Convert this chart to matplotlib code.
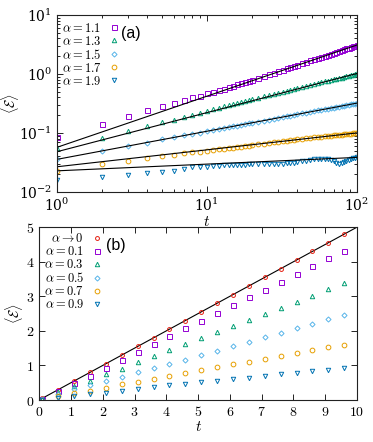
import matplotlib
matplotlib.use('Agg')
import matplotlib.pyplot as plt
from matplotlib.ticker import FixedLocator, FuncFormatter, LogLocator, NullFormatter

plt.rcParams['mathtext.fontset'] = 'cm'
plt.rcParams['font.family'] = ['DejaVu Serif']

# --- painel (a): <E>(t) em escala log-log ---
t_a = list(range(1, 21)) + list(range(22, 41, 2)) + list(range(43, 101, 3))

e_11 = [0.086, 0.14, 0.19, 0.245, 0.285, 0.32, 0.36, 0.40, 0.43, 0.47,
        0.50, 0.53, 0.56, 0.59, 0.63, 0.67, 0.70, 0.73, 0.77, 0.80,
        0.86, 0.93, 0.99, 1.05, 1.12, 1.18, 1.24, 1.30, 1.36, 1.42,
        1.52, 1.61, 1.70, 1.79, 1.88, 1.96, 2.05, 2.13, 2.22, 2.30,
        2.38, 2.47, 2.55, 2.63, 2.71, 2.79, 2.87, 2.95, 3.03, 3.10]
e_13 = [0.055, 0.082, 0.109, 0.130, 0.151, 0.168, 0.184, 0.200, 0.218, 0.236,
        0.252, 0.268, 0.283, 0.297, 0.310, 0.323, 0.336, 0.348, 0.360, 0.372,
        0.395, 0.418, 0.440, 0.460, 0.480, 0.500, 0.520, 0.540, 0.558, 0.576,
        0.602, 0.628, 0.652, 0.676, 0.700, 0.722, 0.745, 0.766, 0.788, 0.808,
        0.828, 0.848, 0.868, 0.888, 0.906, 0.925, 0.950, 0.970, 0.995, 1.02]
e_15 = [0.0355, 0.050, 0.059, 0.068, 0.0776, 0.0838, 0.0906, 0.095, 0.100, 0.107,
        0.111, 0.116, 0.121, 0.124, 0.129, 0.133, 0.137, 0.141, 0.145, 0.148,
        0.155, 0.162, 0.168, 0.174, 0.180, 0.186, 0.191, 0.196, 0.201, 0.206,
        0.214, 0.220, 0.227, 0.234, 0.240, 0.246, 0.252, 0.258, 0.264, 0.269,
        0.275, 0.280, 0.285, 0.290, 0.295, 0.300, 0.305, 0.310, 0.315, 0.320]
e_17 = [0.0227, 0.0295, 0.0336, 0.0369, 0.0404, 0.0425, 0.0449, 0.0467, 0.0482, 0.0498,
        0.0512, 0.0524, 0.0536, 0.0548, 0.0558, 0.0570, 0.0582, 0.0594, 0.0605, 0.0615,
        0.0640, 0.0655, 0.0672, 0.0688, 0.0706, 0.0722, 0.0733, 0.0748, 0.0762, 0.0780,
        0.0795, 0.0812, 0.0830, 0.0842, 0.0850, 0.0866, 0.0880, 0.0888, 0.0902, 0.0915,
        0.0920, 0.0928, 0.0935, 0.0946, 0.0958, 0.0965, 0.0972, 0.0982, 0.0995, 0.1005]
e_19 = [0.0158, 0.0180, 0.0195, 0.0210, 0.0219, 0.0227, 0.0240, 0.0262, 0.0260, 0.0266,
        0.0272, 0.0277, 0.0280, 0.0283, 0.0284, 0.0287, 0.0289, 0.0290, 0.0292, 0.0293,
        0.0295, 0.0297, 0.0298, 0.0299, 0.0300, 0.0302, 0.0305, 0.0308, 0.0311, 0.0315,
        0.0330, 0.0340, 0.0350, 0.0355, 0.0360, 0.0360, 0.0358, 0.0355, 0.0345, 0.0330,
        0.0310, 0.0300, 0.0305, 0.0320, 0.0340, 0.0350, 0.0360, 0.0370, 0.0380, 0.0388]

# retas de ajuste (extremos t=1 e t=100)
t_fit = [1, 100]
fit_11 = [0.0567, 3.10]
fit_13 = [0.0478, 1.02]
fit_15 = [0.0355, 0.32]
fit_17 = [0.0266, 0.100]
fit_19 = [0.0227, 0.0384]

# --- painel (b): escala linear ---
t_b = [0.1, 0.6, 1.1, 1.6, 2.1, 2.6, 3.1, 3.6, 4.1, 4.6,
       5.1, 5.6, 6.1, 6.6, 7.1, 7.6, 8.1, 8.6, 9.1, 9.6]
e_00 = [0.05, 0.30, 0.55, 0.80, 1.05, 1.30, 1.55, 1.80, 2.05, 2.30,
        2.55, 2.80, 3.05, 3.30, 3.55, 3.80, 4.05, 4.30, 4.55, 4.80]
e_01 = [0.03, 0.27, 0.49, 0.70, 0.93, 1.16, 1.39, 1.61, 1.84, 2.07,
        2.29, 2.51, 2.74, 2.97, 3.19, 3.42, 3.64, 3.87, 4.10, 4.32]
e_03 = [0.02, 0.22, 0.40, 0.56, 0.74, 0.91, 1.09, 1.26, 1.44, 1.61,
        1.79, 1.96, 2.14, 2.31, 2.49, 2.66, 2.84, 3.02, 3.20, 3.38]
e_05 = [0.02, 0.17, 0.31, 0.42, 0.54, 0.67, 0.80, 0.92, 1.05, 1.17,
        1.31, 1.43, 1.55, 1.68, 1.82, 1.94, 2.07, 2.20, 2.33, 2.45]
e_07 = [0.01, 0.12, 0.20, 0.27, 0.36, 0.45, 0.53, 0.61, 0.70, 0.78,
        0.87, 0.95, 1.03, 1.11, 1.19, 1.27, 1.36, 1.44, 1.52, 1.60]
e_09 = [0.01, 0.07, 0.11, 0.17, 0.21, 0.27, 0.32, 0.37, 0.42, 0.47,
        0.51, 0.56, 0.61, 0.65, 0.70, 0.74, 0.79, 0.83, 0.87, 0.92]
t_line_b = [0, 10]
e_line_b = [0, 5]

roxo = '#9400d3'
verde = '#009e73'
azul_claro = '#56b4e9'
laranja = '#e69f00'
azul = '#0072b2'
vermelho = '#e51e10'

fig = plt.figure(figsize=(3.73, 4.42), dpi=100)
ax1 = fig.add_axes([0.152, 0.566, 0.805, 0.400])
ax2 = fig.add_axes([0.105, 0.095, 0.852, 0.391])

estilo = dict(linestyle='none', mfc='none', mew=0.7)

series_a = [
    (e_11, fit_11, roxo, 's', 3.6, r'$\alpha = 1.1$'),
    (e_13, fit_13, verde, '^', 3.2, r'$\alpha = 1.3$'),
    (e_15, fit_15, azul_claro, 'D', 2.6, r'$\alpha = 1.5$'),
    (e_17, fit_17, laranja, 'o', 3.4, r'$\alpha = 1.7$'),
    (e_19, fit_19, azul, 'v', 3.2, r'$\alpha = 1.9$'),
]
for e, fit, cor, mk, ms, rot in series_a:
    ax1.plot(t_a, e, marker=mk, color=cor, ms=ms, label=rot, **estilo)
for e, fit, cor, mk, ms, rot in series_a:
    ax1.plot(t_fit, fit, color='black', lw=0.8)

ax1.set_xscale('log')
ax1.set_yscale('log')
ax1.set_xlim(1, 100)
ax1.set_ylim(0.01, 10)
ax1.xaxis.set_major_locator(LogLocator(base=10, numticks=5))
ax1.yaxis.set_major_locator(LogLocator(base=10, numticks=6))
ax1.xaxis.set_minor_formatter(NullFormatter())
ax1.yaxis.set_minor_formatter(NullFormatter())
ax1.set_xlabel(r'$t$', fontsize=11, labelpad=1)
ax1.set_ylabel(r'$\langle\mathcal{E}\rangle$', fontsize=10)
ax1.yaxis.set_label_coords(-0.12, 0.5)
ax1.legend(loc='upper left', bbox_to_anchor=(0.0, 0.99), frameon=False,
           markerfirst=False, fontsize=9, handlelength=1.0,
           handletextpad=0.5, labelspacing=0.0, borderaxespad=0.1,
           borderpad=0.3)
ax1.text(0.215, 0.895, '(a)', transform=ax1.transAxes, fontsize=11.5,
         family='Liberation Sans', ha='left', va='center')

series_b = [
    (e_00, vermelho, 'o', 2.8, r'$\alpha \to 0$'),
    (e_01, roxo, 's', 3.6, r'$\alpha = 0.1$'),
    (e_03, verde, '^', 3.2, r'$\alpha = 0.3$'),
    (e_05, azul_claro, 'D', 2.6, r'$\alpha = 0.5$'),
    (e_07, laranja, 'o', 3.4, r'$\alpha = 0.7$'),
    (e_09, azul, 'v', 3.2, r'$\alpha = 0.9$'),
]
ax2.plot(t_line_b, e_line_b, color='black', lw=0.8)
for e, cor, mk, ms, rot in series_b:
    ax2.plot(t_b, e, marker=mk, color=cor, ms=ms, label=rot, **estilo)

ax2.set_xlim(0, 10)
ax2.set_ylim(0, 5)
ax2.xaxis.set_major_locator(FixedLocator(range(0, 11)))
ax2.yaxis.set_major_locator(FixedLocator(range(0, 6)))
fmt = FuncFormatter(lambda v, p: r'$%d$' % v)
ax2.xaxis.set_major_formatter(fmt)
ax2.yaxis.set_major_formatter(fmt)
ax2.set_xlabel(r'$t$', fontsize=11, labelpad=1)
ax2.set_ylabel(r'$\langle\mathcal{E}\rangle$', fontsize=10)
ax2.yaxis.set_label_coords(-0.045, 0.5)
ax2.legend(loc='upper left', frameon=False, markerfirst=False, fontsize=9,
           handlelength=1.0, handletextpad=0.5, labelspacing=0.0,
           borderaxespad=0.1, borderpad=0.3)
ax2.text(0.21, 0.895, '(b)', transform=ax2.transAxes, fontsize=11.5,
         family='Liberation Sans', ha='left', va='center')

for ax in (ax1, ax2):
    ax.tick_params(which='both', direction='in', top=True, right=True,
                   labelsize=10, width=0.6)
    ax.tick_params(which='major', length=4)
    ax.tick_params(which='minor', length=2)
    for s in ax.spines.values():
        s.set_linewidth(0.8)
        s.set_color('#222222')

fig.savefig('out.png', dpi=100)
